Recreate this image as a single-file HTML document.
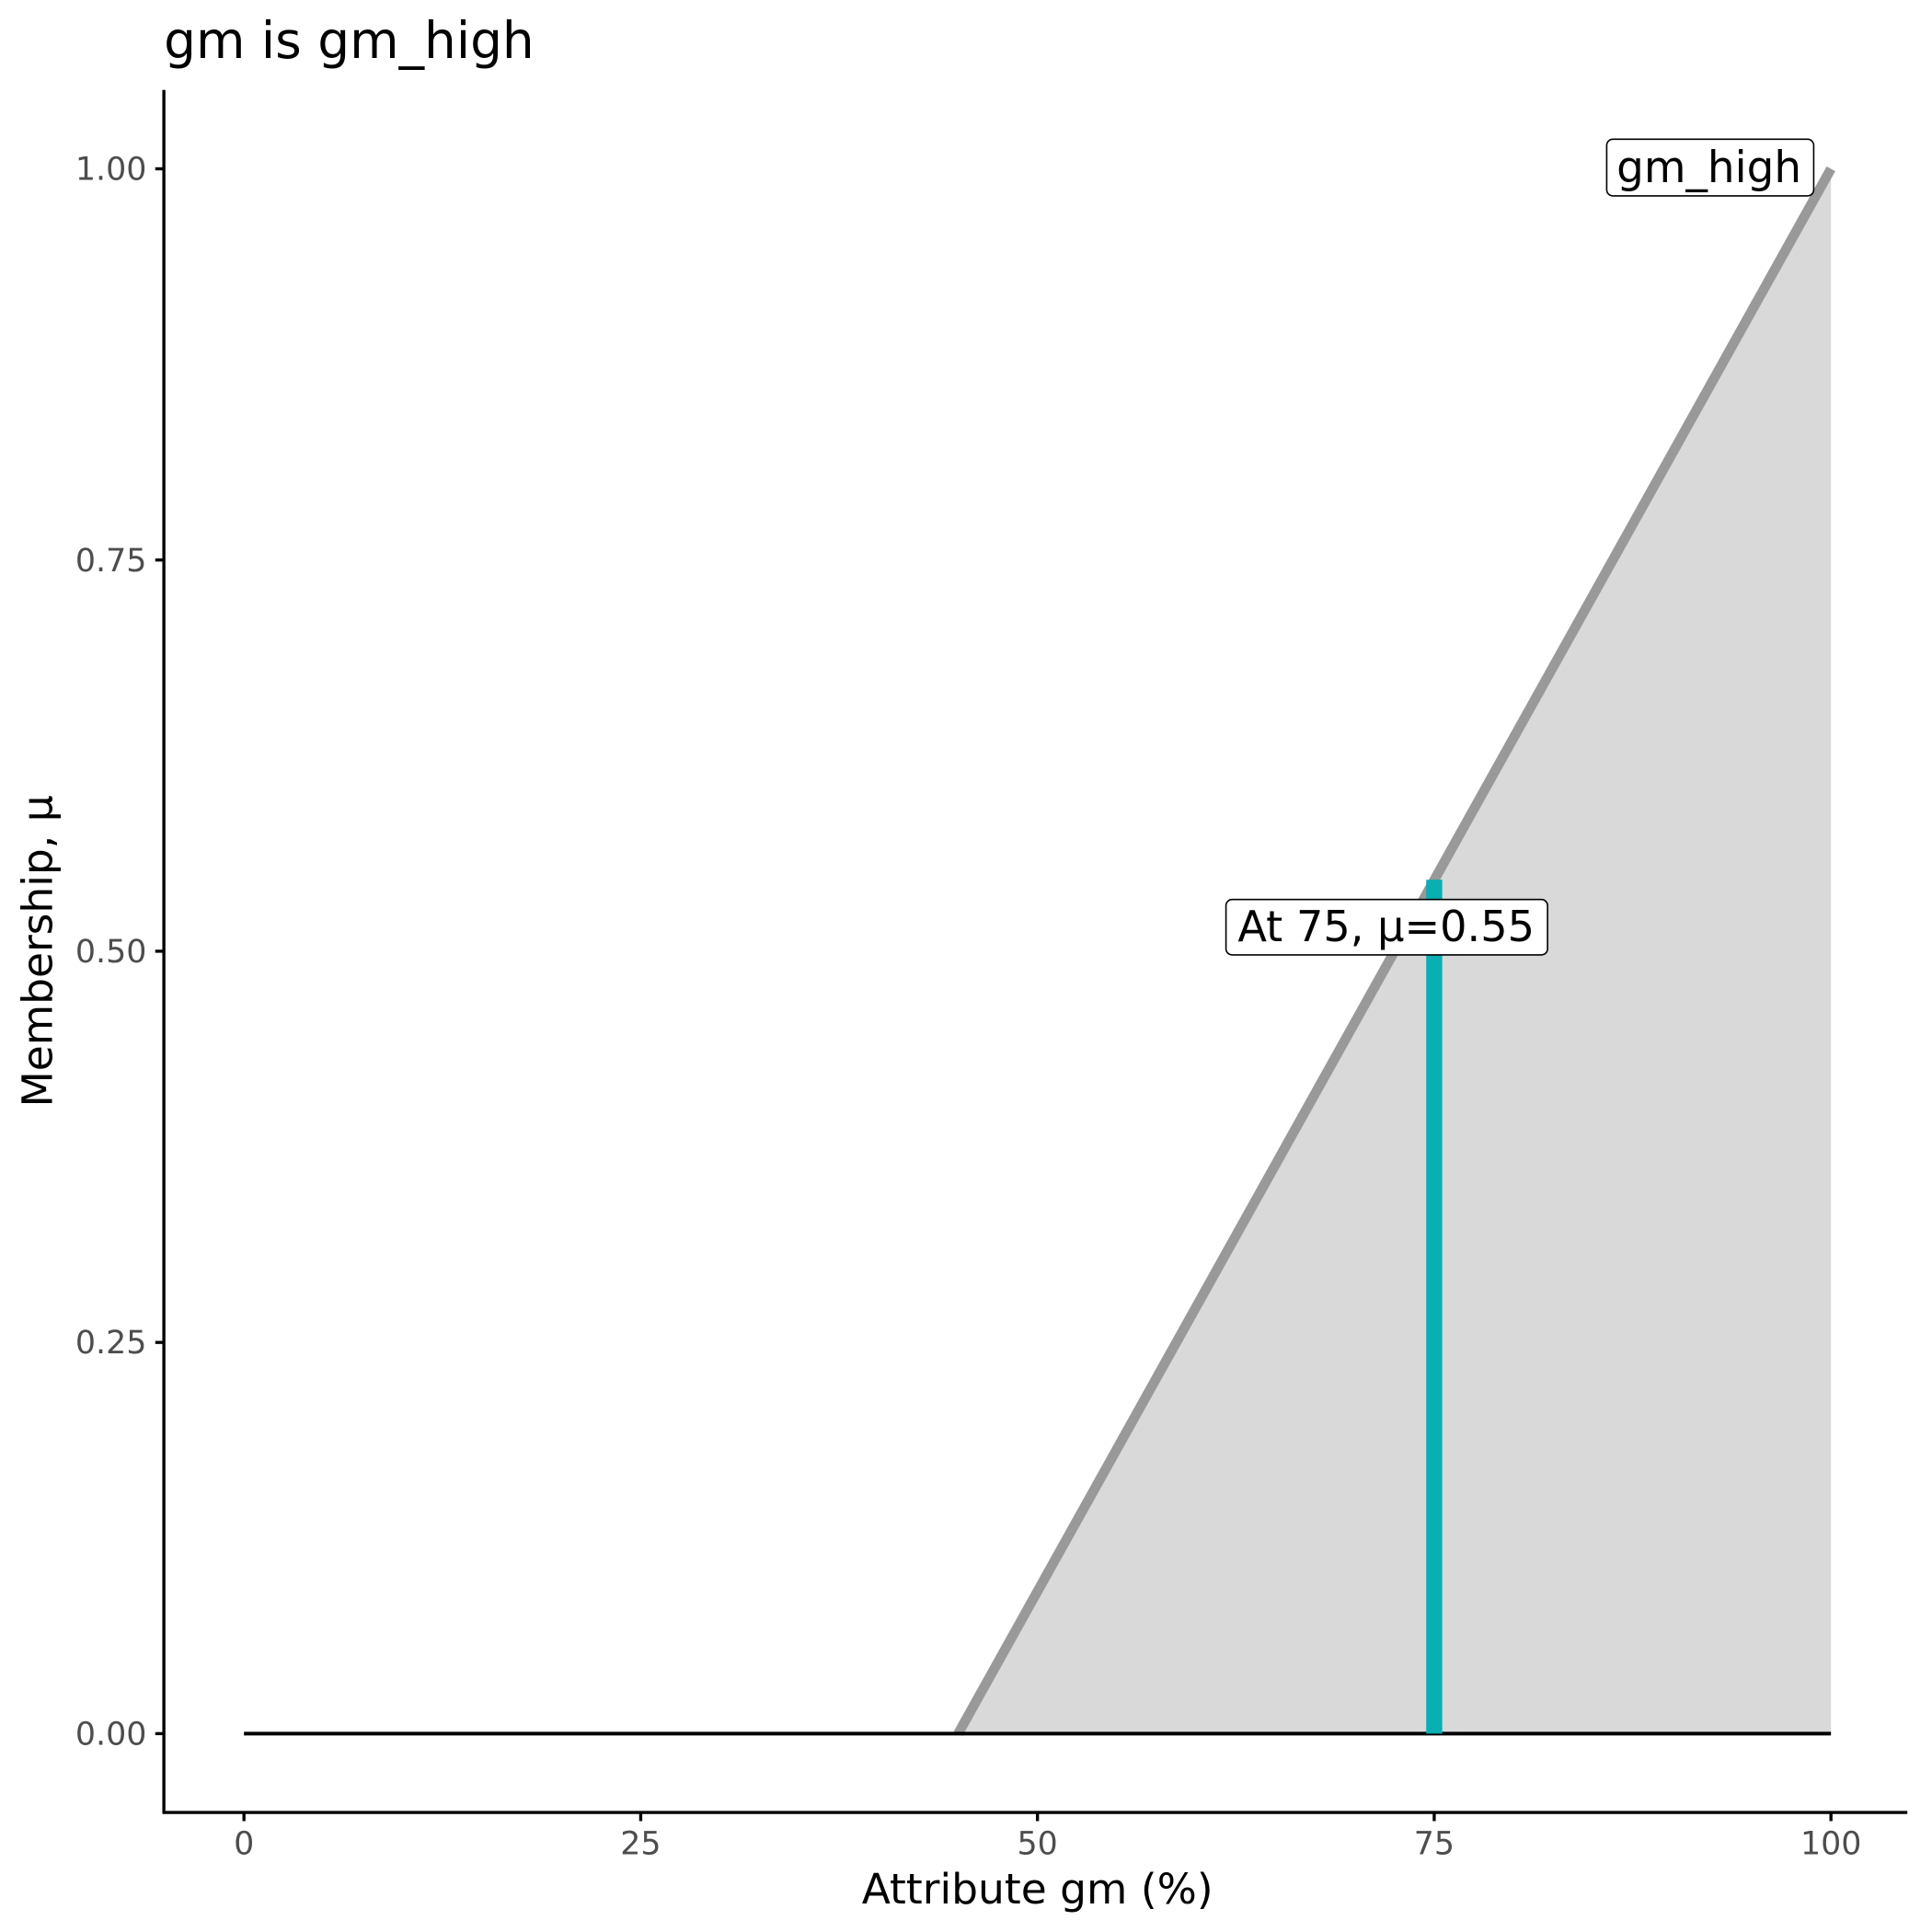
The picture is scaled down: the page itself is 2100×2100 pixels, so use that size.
<!DOCTYPE html>
<html><head><meta charset="utf-8"><style>html,body{margin:0;padding:0;background:#fff}svg{display:block}</style></head>
<body>
<svg width="2100" height="2100" viewBox="0 0 1568 1568" xmlns="http://www.w3.org/2000/svg" font-family="'DejaVu Sans','Liberation Sans',sans-serif">
<rect width="1568" height="1568" fill="#fff"/>
<text x="133" y="47" font-size="41" fill="#000">gm is gm_high</text>
<polygon points="777.6,1407 1486,137 1486,1407" fill="#d9d9d9"/>
<line x1="777.6" y1="1407" x2="1486" y2="137" stroke="#999" stroke-width="8"/>
<line x1="198" y1="1407" x2="1486" y2="1407" stroke="#000" stroke-width="3"/>
<line x1="1164" y1="1407" x2="1164" y2="714" stroke="#0aaeb3" stroke-width="13"/>
<rect x="1304" y="113" width="168" height="46" rx="5" fill="#fff" stroke="#000" stroke-width="1.2"/>
<text x="1387" y="148" font-size="35" text-anchor="middle">gm_high</text>
<rect x="995" y="730" width="261" height="45" rx="5" fill="#fff" stroke="#000" stroke-width="1.2"/>
<text x="1125" y="764" font-size="34.5" text-anchor="middle">At 75, μ=0.55</text>
<line x1="133" y1="73" x2="133" y2="1472" stroke="#000" stroke-width="2.5"/>
<line x1="132" y1="1471" x2="1548" y2="1471" stroke="#000" stroke-width="2.5"/>
<g stroke="#000" stroke-width="2.5">
<line x1="126" y1="1407" x2="133" y2="1407"/><line x1="126" y1="1089.5" x2="133" y2="1089.5"/><line x1="126" y1="772" x2="133" y2="772"/><line x1="126" y1="454.5" x2="133" y2="454.5"/><line x1="126" y1="137" x2="133" y2="137"/>
<line x1="198" y1="1471" x2="198" y2="1478"/><line x1="520" y1="1471" x2="520" y2="1478"/><line x1="842" y1="1471" x2="842" y2="1478"/><line x1="1164" y1="1471" x2="1164" y2="1478"/><line x1="1486" y1="1471" x2="1486" y2="1478"/>
</g>
<g font-size="26" fill="#4d4d4d" text-anchor="end">
<text x="119" y="1416">0.00</text><text x="119" y="1098.5">0.25</text><text x="119" y="781">0.50</text><text x="119" y="463.5">0.75</text><text x="119" y="146">1.00</text>
</g>
<g font-size="26" fill="#4d4d4d" text-anchor="middle">
<text x="198" y="1505">0</text><text x="520" y="1505">25</text><text x="842" y="1505">50</text><text x="1164" y="1505">75</text><text x="1486" y="1505">100</text>
</g>
<text x="842" y="1545" font-size="34" text-anchor="middle">Attribute gm (%)</text>
<text transform="translate(42,772) rotate(-90)" font-size="34" text-anchor="middle">Membership, μ</text>
</svg>
</body></html>
